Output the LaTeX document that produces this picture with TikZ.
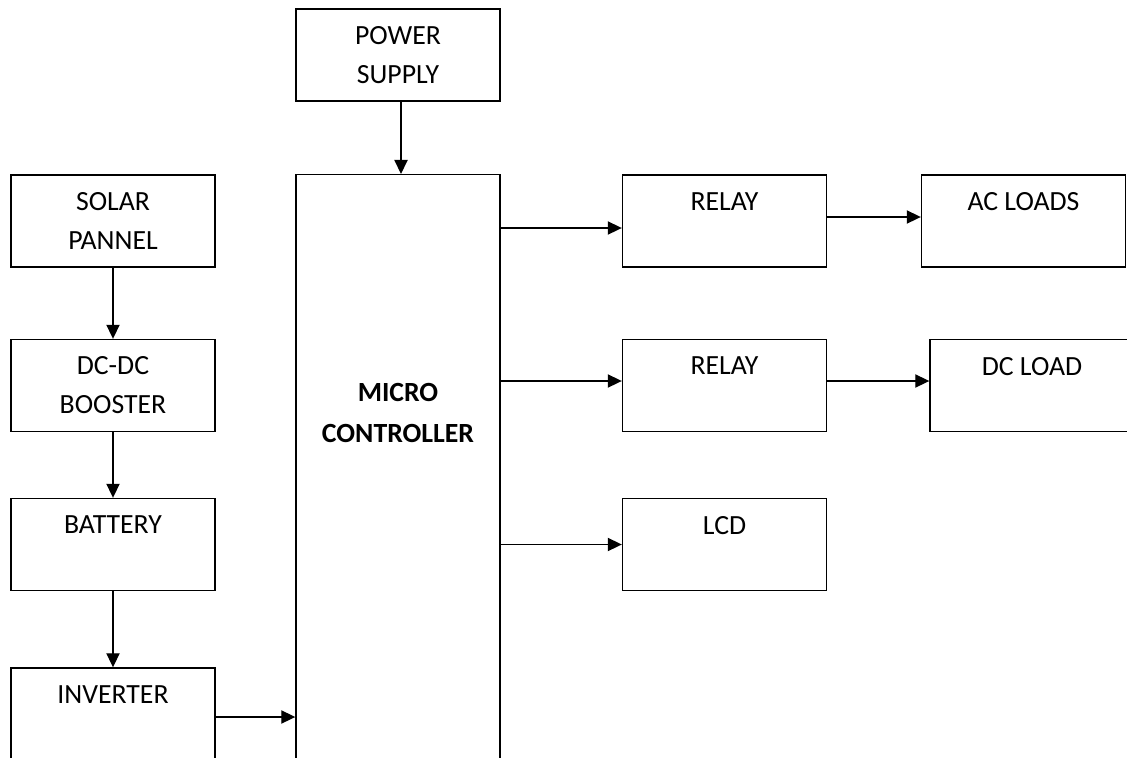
\documentclass[tikz,border=0pt]{standalone}
\usepackage{fontspec}
\setmainfont{Carlito}
\usetikzlibrary{arrows.meta,calc}

\begin{document}
\begin{tikzpicture}[x=0.02cm,y=-0.02cm,
  bloque/.style={draw, line width=0.8pt, minimum width=4.08cm, minimum height=1.84cm,
    inner sep=0pt, align=center, font=\fontsize{15.8}{22.2}\selectfont},
  flecha/.style={line width=0.8pt, -{Triangle[length=8pt,width=7.5pt]}}]

% Marco de la figura
\clip (0,0) rectangle (1127,758);

% Fuente y microcontrolador
\node[bloque] (ps) at (398,55) {POWER\\SUPPLY};
\node[bloque, anchor=north, minimum height=12cm] (mc) at (398,174) {};
\node[font=\bfseries\fontsize{15.8}{23.3}\selectfont, align=center] (mctext) at (398,413) {MICRO\\CONTROLLER};

% Cadena solar
\node[bloque] (solar) at (113,221) {SOLAR\\PANNEL};
\node[bloque] (dcdc) at (113,385.5) {DC-DC\\BOOSTER};
\node[bloque] (bat) at (113,544.5) {BATTERY\\~};
\node[bloque] (inv) at (113,714) {INVERTER\\~};

% Salidas
\node[bloque] (r1) at (724.5,221) {RELAY\\~};
\node[bloque] (r2) at (724.5,385.5) {RELAY\\~};
\node[bloque] (lcd) at (724.5,544.5) {LCD\\~};
\node[bloque] (ac) at (1023.5,221) {AC LOADS\\~};
\node[bloque] (dc) at (1032,385.5) {DC LOAD\\~};

% Flechas
\draw[flecha] ($(ps.south)+(3,0)$) -- ($(ps.south |- mc.north)+(3,0)$);
\draw[flecha] (solar) -- (dcdc);
\draw[flecha] (dcdc) -- (bat);
\draw[flecha] (bat) -- (inv);
\draw[flecha] ($(inv.east)+(0,3)$) -- ($(inv.east -| mc.west)+(0,3)$);
\draw[flecha] ($(mc.east |- r1)+(0,7)$) -- ($(r1.west)+(0,7)$);
\draw[flecha] ($(mc.east |- r2)+(0,-4.5)$) -- ($(r2.west)+(0,-4.5)$);
\draw[flecha] (mc.east |- lcd) -- (lcd.west);
\draw[flecha] ($(r1.east)+(0,-4)$) -- ($(ac.west)+(0,-4)$);
\draw[flecha] ($(r2.east)+(0,-4.5)$) -- ($(dc.west)+(0,-4.5)$);

\end{tikzpicture}
\end{document}
